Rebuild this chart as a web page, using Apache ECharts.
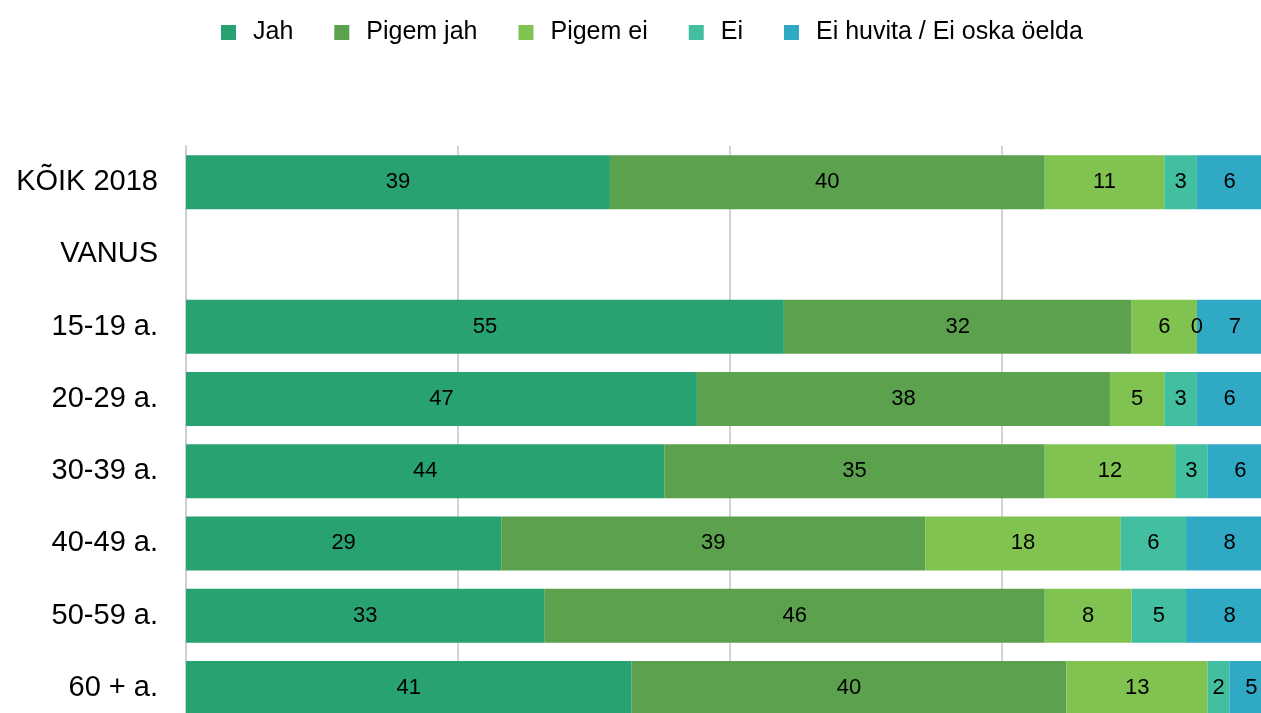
<!DOCTYPE html>
<html><head><meta charset="utf-8">
<script src="https://cdn.jsdelivr.net/npm/echarts@6/dist/echarts.min.js"></script>
<style>html,body{margin:0;padding:0;background:#fff;overflow:hidden;width:1261px;height:713px}#c{width:1273px;height:724px}</style>
</head><body><div id="c"></div>
<script>
const categories = ['KÕIK 2018','VANUS','15-19 a.','20-29 a.','30-39 a.','40-49 a.','50-59 a.','60 + a.'];
const seriesNames = ['Jah','Pigem jah','Pigem ei','Ei','Ei huvita / Ei oska öelda'];
const jah      = [39,'-',55,47,44,29,33,41];
const pigemJah = [40,'-',32,38,35,39,46,40];
const pigemEi  = [11,'-',6,5,12,18,8,13];
const ei       = [3,'-',0,3,3,6,5,2];
const eiHuvita = [6,'-',7,6,6,8,8,5];
const colors = ['#28a271','#5ca14e','#80c351','#42bea0','#30a9c5'];
const values = [jah,pigemJah,pigemEi,ei,eiHuvita];

const chart = echarts.init(document.getElementById('c'));
chart.setOption({
  animation:false,
  textStyle:{fontFamily:'Liberation Sans, Arial, sans-serif'},
  legend:{
    left:216, top:15, itemWidth:15, itemHeight:15, itemGap:41,
    icon:'rect',
    textStyle:{fontSize:25, color:'#000', padding:[0,0,0,12], fontFamily:'Liberation Sans, Arial, sans-serif'},
    data:seriesNames
  },
  grid:{left:186, right:0, top:146, bottom:0, containLabel:false},
  xAxis:{type:'value', min:0, max:100, interval:25,
    axisLine:{show:false}, axisTick:{show:false}, axisLabel:{show:false},
    splitLine:{show:true, lineStyle:{color:'#d3d3d3', width:2}}},
  yAxis:{type:'category', data:categories, inverse:true,
    axisLine:{show:true, lineStyle:{color:'#cfcfcf', width:2}},
    axisTick:{show:false},
    axisLabel:{fontSize:29, color:'#000', margin:28, fontFamily:'Liberation Sans, Arial, sans-serif'}},
  series: seriesNames.map((n,i)=>({
    name:n, type:'bar', stack:'all', data:values[i], barWidth:54,
    itemStyle:{color:colors[i]},
    label:{show:true, position:'inside', fontSize:22, color:'#000', fontFamily:'Liberation Sans, Arial, sans-serif'}
  }))
});
</script></body></html>
